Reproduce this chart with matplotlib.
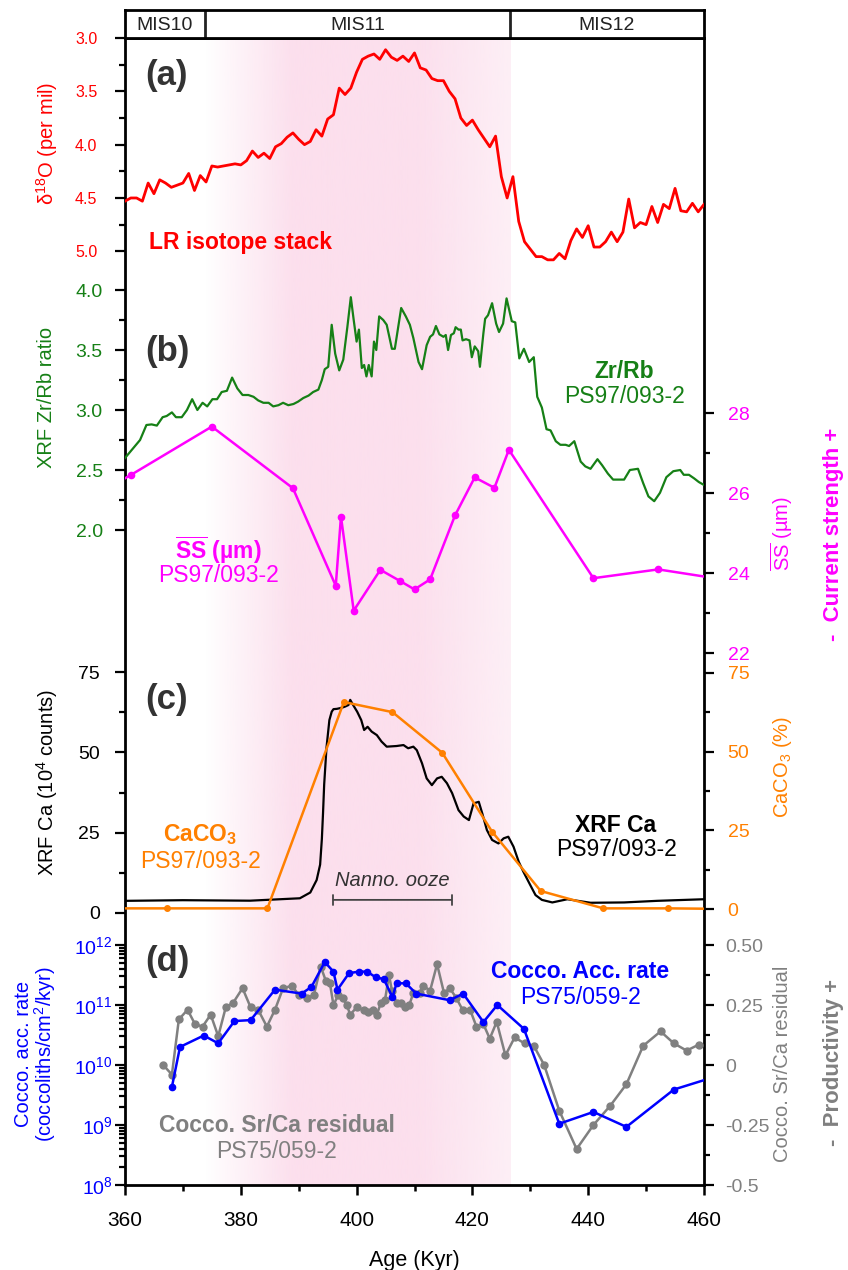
import numpy as np
import matplotlib
matplotlib.use('Agg')
import matplotlib.pyplot as plt
from matplotlib.ticker import FixedLocator, FixedFormatter, NullFormatter, MultipleLocator

plt.rcParams['font.family'] = ['Liberation Sans', 'DejaVu Sans']
plt.rcParams['mathtext.fontset'] = 'custom'
plt.rcParams['mathtext.rm'] = 'Liberation Sans'
plt.rcParams['mathtext.it'] = 'Liberation Sans:italic'
plt.rcParams['mathtext.bf'] = 'Liberation Sans:bold'

# --- data -------------------------------------------------------------
# (a) LR04 benthic d18O stack
lr_age = [360, 361, 362, 363, 364, 365, 366, 367, 368, 369, 370, 371, 372, 373, 374,
          375, 376, 377, 378, 379, 380, 381, 382, 383, 384, 385, 386, 387, 388, 389,
          390, 391, 392, 393, 394, 395, 396, 397, 398, 399, 400, 401, 402, 403, 404,
          405, 406, 407, 408, 409, 410, 411, 412, 413, 414, 415, 416, 417, 418, 419,
          420, 421, 422, 423, 424, 425, 426, 427, 428, 429, 430, 431, 432, 433, 434,
          435, 436, 437, 438, 439, 440, 441, 442, 443, 444, 445, 446, 447, 448, 449,
          450, 451, 452, 453, 454, 455, 456, 457, 458, 459, 460]
lr_d18o = [4.53, 4.50, 4.50, 4.53, 4.36, 4.46, 4.33, 4.36, 4.40, 4.38, 4.36, 4.27, 4.43, 4.29, 4.35,
           4.20, 4.21, 4.20, 4.19, 4.18, 4.19, 4.15, 4.06, 4.12, 4.08, 4.13, 4.02, 3.99, 3.93, 3.89,
           3.95, 4.00, 3.97, 3.86, 3.92, 3.76, 3.72, 3.47, 3.53, 3.47, 3.32, 3.20, 3.17, 3.15, 3.20,
           3.11, 3.18, 3.21, 3.17, 3.22, 3.14, 3.28, 3.30, 3.38, 3.40, 3.40, 3.50, 3.57, 3.75, 3.82,
           3.77, 3.86, 3.94, 4.02, 3.92, 4.30, 4.50, 4.30, 4.72, 4.91, 4.98, 5.05, 5.05, 5.08, 5.08,
           5.02, 5.07, 4.90, 4.79, 4.87, 4.76, 4.96, 4.96, 4.91, 4.82, 4.91, 4.82, 4.51, 4.78, 4.73,
           4.75, 4.58, 4.73, 4.56, 4.60, 4.41, 4.62, 4.63, 4.55, 4.63, 4.56]

# (b) XRF Zr/Rb, PS97/093-2
zr_age = [360.0, 361.4, 362.6, 363.7, 364.6, 365.5, 366.5, 367.2, 368.1, 368.8, 369.8, 370.7,
          371.6, 372.5, 373.4, 374.2, 375.1, 375.9, 376.7, 377.6, 378.5, 379.4, 380.3, 381.3,
          382.2, 383.0, 383.9, 384.8, 385.6, 386.5, 387.3, 388.2, 389.1, 389.9, 390.8, 391.7,
          392.5, 393.4, 394.0, 394.5, 395.1, 395.7, 396.3, 397.0, 397.7, 398.4, 399.0, 399.5,
          400.0, 400.4, 400.9, 401.3, 401.7, 402.1, 402.6, 403.0, 403.4, 403.9, 404.6, 405.2,
          406.1, 406.6, 407.7, 408.5, 409.2, 409.8, 410.7, 411.3, 412.1, 412.7, 413.2, 413.7,
          414.3, 415.0, 415.4, 415.8, 416.3, 416.8, 417.1, 417.6, 418.0, 418.3, 418.9, 419.5,
          419.9, 420.4, 421.0, 421.3, 421.9, 422.2, 422.7, 423.4, 424.1, 424.6, 425.3, 425.9,
          426.8, 427.4, 428.1, 428.9, 429.8, 430.6, 431.2, 432.0, 432.8, 433.5, 434.4, 435.2,
          436.1, 436.7, 437.6, 438.7, 439.5, 440.4, 441.6, 442.4, 443.4, 444.3, 445.2, 446.2,
          447.2, 448.6, 449.5, 450.4, 451.4, 452.4, 453.5, 454.7, 455.9, 456.5, 457.4, 458.3,
          459.1, 460.0]
zr_rb = [2.60, 2.68, 2.75, 2.875, 2.88, 2.87, 2.94, 2.95, 2.98, 2.94, 2.94, 3.00,
         3.09, 3.00, 3.06, 3.03, 3.09, 3.09, 3.15, 3.16, 3.27, 3.18, 3.125, 3.125,
         3.11, 3.08, 3.06, 3.06, 3.03, 3.04, 3.06, 3.04, 3.05, 3.07, 3.10, 3.12,
         3.15, 3.17, 3.25, 3.34, 3.36, 3.71, 3.47, 3.33, 3.42, 3.69, 3.94, 3.75,
         3.57, 3.67, 3.35, 3.375, 3.28, 3.375, 3.28, 3.57, 3.50, 3.78, 3.75, 3.71,
         3.51, 3.51, 3.85, 3.78, 3.71, 3.60, 3.40, 3.34, 3.54, 3.61, 3.63, 3.70,
         3.63, 3.61, 3.625, 3.50, 3.625, 3.64, 3.69, 3.67, 3.67, 3.58, 3.59, 3.58,
         3.44, 3.53, 3.49, 3.36, 3.64, 3.76, 3.79, 3.89, 3.72, 3.65, 3.72, 3.93,
         3.74, 3.73, 3.43, 3.51, 3.40, 3.44, 3.11, 3.02, 2.84, 2.83, 2.74, 2.71,
         2.71, 2.70, 2.74, 2.57, 2.53, 2.51, 2.59, 2.54, 2.47, 2.42, 2.42, 2.42,
         2.50, 2.51, 2.39, 2.28, 2.24, 2.31, 2.44, 2.49, 2.50, 2.46, 2.46, 2.43,
         2.40, 2.375]

# (b) mean sortable silt, PS97/093-2
ss_age = [358.0, 361.0, 375.0, 389.0, 396.4, 397.3, 399.5, 404.1, 407.5, 410.0,
          412.7, 417.0, 420.4, 423.8, 426.3, 440.9, 452.1, 465.0]
ss_um = [26.2, 26.45, 27.66, 26.12, 23.68, 25.41, 23.06, 24.08, 23.8, 23.59,
         23.84, 25.44, 26.39, 26.13, 27.08, 23.87, 24.09, 23.8]

# (c) XRF Ca, PS97/093-2
ca_age = [360.0, 370.0, 381.6, 390.2, 392.0, 393.1, 393.7, 394.0, 394.2, 394.4, 394.8,
          395.3, 395.7, 396.0, 396.6, 397.1, 397.7, 398.0, 398.6, 398.9, 399.4, 400.1,
          400.8, 401.3, 401.9, 402.6, 403.5, 404.3, 405.2, 406.9, 408.1, 408.9, 409.8,
          410.4, 411.3, 412.1, 413.0, 413.9, 414.7, 415.6, 416.5, 417.6, 418.5, 419.4,
          420.2, 421.1, 421.7, 422.5, 423.4, 424.5, 425.4, 426.2, 427.1, 428.0, 428.8,
          430.0, 430.9, 432.0, 433.8, 436.4, 440.4, 446.2, 451.9, 460.0]
ca_counts = [3.7, 3.9, 3.75, 4.5, 6.3, 10.2, 15.0, 23.0, 31.0, 40.0, 51.5,
             60.1, 62.7, 63.5, 63.6, 63.8, 64.1, 64.3, 64.8, 66.4, 64.8, 62.7,
             60.1, 57.0, 58.0, 56.5, 55.4, 53.4, 51.8, 52.0, 52.3, 51.3, 51.8,
             50.7, 46.6, 41.9, 39.8, 41.9, 42.4, 40.4, 37.3, 32.0, 30.0, 28.9,
             34.1, 34.6, 31.0, 25.8, 22.7, 21.6, 23.2, 23.7, 20.6, 15.9, 12.8,
             8.6, 5.5, 4.0, 3.2, 4.2, 3.1, 3.2, 3.7, 4.2]

# (c) CaCO3, PS97/093-2
caco3_age = [355.0, 367.2, 384.6, 397.8, 406.2, 414.8, 423.4, 431.8, 442.6, 453.8, 465.0]
caco3_pct = [0.3, 0.3, 0.3, 65.7, 62.5, 49.6, 24.6, 5.8, 0.3, 0.3, 0.1]

# (d) coccolith accumulation rate, PS75/059-2
acc_age = [368.1, 369.5, 373.6, 376.1, 378.9, 381.7, 385.9, 390.5, 392.2, 394.5,
           396.0, 396.7, 398.7, 400.4, 401.8, 403.3, 404.7, 406.2, 406.9, 408.5,
           410.3, 416.1, 418.4, 421.9, 424.3, 428.9, 435.0, 440.9, 446.6, 454.8, 465.0]
acc_rate = [4.3e9, 2.0e10, 3.1e10, 2.3e10, 5.4e10, 5.6e10, 1.8e11, 1.55e11, 2.0e11, 5.2e11,
            3.6e11, 1.8e11, 3.4e11, 3.6e11, 3.6e11, 2.9e11, 2.7e11, 1.35e11, 2.3e11, 2.3e11,
            1.55e11, 1.2e11, 1.55e11, 5.2e10, 1.0e11, 4.0e10, 1.05e9, 1.65e9, 9.3e8, 3.9e9, 7.9e9]

# (d) coccolith Sr/Ca residual, PS75/059-2
srca_age = [366.6, 368.1, 369.3, 370.8, 372.1, 373.4, 374.8, 376.1, 377.4, 378.7, 380.3,
            381.7, 383.0, 384.5, 385.9, 387.3, 388.8, 390.1, 391.4, 392.6, 393.8, 394.7,
            395.4, 396.0, 396.8, 397.6, 398.3, 398.9, 400.0, 401.2, 402.0, 402.8, 403.5,
            404.2, 404.9, 405.6, 406.1, 406.9, 407.6, 408.4, 409.1, 409.8, 410.9, 411.5,
            412.7, 413.9, 415.1, 416.1, 417.2, 418.3, 419.6, 420.7, 421.9, 423.0, 424.2,
            425.7, 427.3, 429.0, 430.6, 432.4, 435.0, 438.0, 440.9, 443.8, 446.6, 449.5,
            452.5, 454.8, 457.0, 459.1]
srca_res = [0.00, -0.04, 0.19, 0.23, 0.17, 0.16, 0.21, 0.12, 0.24, 0.26, 0.32,
            0.24, 0.23, 0.16, 0.23, 0.32, 0.33, 0.29, 0.28, 0.29, 0.41, 0.35,
            0.34, 0.25, 0.29, 0.28, 0.25, 0.21, 0.24, 0.23, 0.22, 0.23, 0.21,
            0.26, 0.27, 0.375, 0.31, 0.26, 0.26, 0.24, 0.25, 0.30, 0.30, 0.33,
            0.31, 0.42, 0.30, 0.32, 0.28, 0.23, 0.23, 0.16, 0.17, 0.11, 0.18,
            0.04, 0.115, 0.09, 0.08, 0.0, -0.19, -0.35, -0.25, -0.17, -0.08, 0.08,
            0.14, 0.09, 0.06, 0.085]

mis_names = ['MIS10', 'MIS11', 'MIS12']
mis_bounds = [360, 373.8, 426.5, 460]

# --- layout (pixel positions on an 848 x 1270 canvas) ------------------
W, H = 848, 1270
X0, X1 = 125, 704
Y_MIS, Y_TOP, Y_BOT = 10, 38, 1185

RED, GREEN, MAGENTA = '#ff0000', '#168016', '#ff00ff'
ORANGE, BLUE, GREY = '#ff8000', '#0000ff', '#808080'
DARK = '#333333'


def fx(px):
    return px / W


def fy(py):
    return 1 - py / H


fig = plt.figure(figsize=(W / 100, H / 100), dpi=100)
box = [fx(X0), fy(Y_BOT), fx(X1) - fx(X0), fy(Y_TOP) - fy(Y_BOT)]

# frame with the age axis
ax = fig.add_axes(box)
ax.set_xlim(360, 460)
ax.set_ylim(0, 1)
ax.set_yticks([])
ax.xaxis.set_major_locator(MultipleLocator(20))
ax.xaxis.set_minor_locator(MultipleLocator(10))
ax.tick_params(axis='x', which='major', direction='out', length=7, width=1.8,
               labelsize=15, pad=12)
ax.tick_params(axis='x', which='minor', direction='out', length=4, width=1.8)
for s in ax.spines.values():
    s.set_linewidth(2.0)
ax.set_xlabel('Age (Kyr)', fontsize=15.5, labelpad=14)

# MIS11 interglacial shading, faded at the edges
shade_x = np.linspace(mis_bounds[1], mis_bounds[2], 400)
alpha = np.interp(shade_x, [373.8, 389.0, 410.0, 426.5], [0.0, 1.0, 1.0, 0.5])
pink = np.zeros((1, shade_x.size, 4))
pink[..., 0] = 252 / 255
pink[..., 1] = 223 / 255
pink[..., 2] = 237 / 255
pink[..., 3] = alpha
ax.imshow(pink, extent=[mis_bounds[1], mis_bounds[2], 0, 1], aspect='auto', zorder=0)

# MIS stage bar
mis = fig.add_axes([fx(X0), fy(Y_TOP), fx(X1) - fx(X0), fy(Y_MIS) - fy(Y_TOP)])
mis.set_xlim(360, 460)
mis.set_ylim(0, 1)
mis.set_xticks([])
mis.set_yticks([])
for s in mis.spines.values():
    s.set_linewidth(2.0)
for b in mis_bounds[1:-1]:
    mis.axvline(b, color='#222222', lw=2.0)
for name, a, b in zip(mis_names, mis_bounds[:-1], mis_bounds[1:]):
    mis.text((a + b) / 2, 0.45, name, ha='center', va='center', fontsize=14, color='#222222')


def overlay(p_a, v_a, p_b, v_b, log=False):
    """Transparent axes over the frame; value v_a sits at pixel row p_a, v_b at p_b."""
    o = fig.add_axes(box)
    if log:
        v_a, v_b = np.log10(v_a), np.log10(v_b)
    k = (v_b - v_a) / (p_b - p_a)
    lo = v_a + k * (Y_BOT - p_a)
    hi = v_a + k * (Y_TOP - p_a)
    if log:
        o.set_yscale('log')
        lo, hi = 10 ** lo, 10 ** hi
    o.set_ylim(lo, hi)
    o.set_xlim(360, 460)
    o.patch.set_visible(False)
    for s in o.spines.values():
        s.set_visible(False)
    o.tick_params(axis='x', which='both', bottom=False, labelbottom=False)
    return o


def yticks(o, side, major, minor, labels, color, size, pad):
    o.yaxis.set_major_locator(FixedLocator(major))
    o.yaxis.set_minor_locator(FixedLocator(minor))
    o.yaxis.set_major_formatter(FixedFormatter(labels))
    o.yaxis.set_minor_formatter(NullFormatter())
    if side == 'right':
        o.yaxis.tick_right()
    else:
        o.yaxis.tick_left()
    o.tick_params(axis='y', which='major', direction='out', length=7, width=1.6,
                  color='black', labelcolor=color, labelsize=size, pad=pad)
    o.tick_params(axis='y', which='minor', direction='out', length=4, width=1.6, color='black')


def label(px, py, s, **kw):
    fig.text(fx(px), fy(py), s, ha='center', va='center', **kw)


# (a) d18O
a_ax = overlay(38, 3.0, 251.3, 5.0)
yticks(a_ax, 'left', [3.0, 3.5, 4.0, 4.5, 5.0], [3.25, 3.75, 4.25, 4.75],
       ['3.0', '3.5', '4.0', '4.5', '5.0'], RED, 11.5, 13)
a_ax.plot(lr_age, lr_d18o, color=RED, lw=2.0)

# (b) Zr/Rb and sortable silt
b_ax = overlay(290, 4.0, 530, 2.0)
yticks(b_ax, 'left', [2.0, 2.5, 3.0, 3.5, 4.0], [2.25, 2.75, 3.25, 3.75],
       ['2.0', '2.5', '3.0', '3.5', '4.0'], GREEN, 14, 9)
b_ax.plot(zr_age, zr_rb, color=GREEN, lw=1.6)

ss_ax = overlay(413, 28, 653, 22)
yticks(ss_ax, 'right', [22, 24, 26, 28], [23, 25, 27],
       ['22', '24', '26', '28'], MAGENTA, 14, 10)
ss_ax.plot(ss_age, ss_um, color=MAGENTA, lw=1.8, marker='o', ms=4.5)

# (c) XRF Ca and CaCO3
c_ax = overlay(672.3, 75, 912.7, 0)
yticks(c_ax, 'left', [0, 25, 50, 75], [12.5, 37.5, 62.5],
       ['0', '25', '50', '75'], 'black', 14, 11)
c_ax.plot(ca_age, ca_counts, color='black', lw=1.6)

co_ax = overlay(672.7, 75, 909.3, 0)
yticks(co_ax, 'right', [0, 25, 50, 75], [12.5, 37.5, 62.5],
       ['0', '25', '50', '75'], ORANGE, 14, 10)
co_ax.plot(caco3_age, caco3_pct, color=ORANGE, lw=1.8, marker='o', ms=4)

# nannofossil ooze interval
c_ax.annotate('', xy=(396.0, 4.0), xytext=(416.4, 4.0),
              arrowprops=dict(arrowstyle='|-|, widthA=0.35, widthB=0.35',
                              color='#444444', lw=1.3, shrinkA=0, shrinkB=0))
label(392, 880, 'Nanno. ooze', fontsize=14.5, style='italic', color=DARK)

# (d) coccolith accumulation rate and Sr/Ca residual
d_ax = overlay(945, 1e12, 1185, 1e8, log=True)
yticks(d_ax, 'left', [1e8, 1e9, 1e10, 1e11, 1e12],
       [m * 10.0 ** e for e in range(8, 12) for m in range(2, 10)],
       [r'$10^{8}$', r'$10^{9}$', r'$10^{10}$', r'$10^{11}$', r'$10^{12}$'], BLUE, 14, 2)

g_ax = overlay(945, 0.5, 1185, -0.5)
yticks(g_ax, 'right', [-0.5, -0.25, 0, 0.25, 0.5], [-0.375, -0.125, 0.125, 0.375],
       ['-0.5', '-0.25', '0', '0.25', '0.50'], GREY, 14, 8)
g_ax.plot(srca_age, srca_res, color=GREY, lw=1.8, marker='o', ms=5)
d_ax.set_zorder(g_ax.get_zorder() + 1)
d_ax.plot(acc_age, acc_rate, color=BLUE, lw=1.8, marker='o', ms=4.5)

# panel letters
for letter, py in zip(['(a)', '(b)', '(c)', '(d)'], [75, 352, 700, 962]):
    fig.text(fx(145), fy(py), letter, ha='left', va='center', fontsize=25,
             fontweight='bold', color=DARK)

# series labels
fig.text(fx(149), fy(242), 'LR isotope stack', ha='left', va='center',
         fontsize=16.5, fontweight='bold', color=RED)
label(624, 371, 'Zr/Rb', fontsize=16.5, fontweight='bold', color=GREEN)
label(625, 397, 'PS97/093-2', fontsize=16.5, color=GREEN)
label(218, 550, r'$\mathbf{\overline{SS}}$ (µm)', fontsize=16.5, fontweight='bold', color=MAGENTA)
label(218, 575, 'PS97/093-2', fontsize=16.5, color=MAGENTA)
label(200, 835, r'CaCO$_\mathbf{3}$', fontsize=16.5, fontweight='bold', color=ORANGE)
label(200, 862, 'PS97/093-2', fontsize=16.5, color=ORANGE)
label(616, 826, 'XRF Ca', fontsize=16.5, fontweight='bold', color='black')
label(616, 850, 'PS97/093-2', fontsize=16.5, color='black')
label(580, 972, 'Cocco. Acc. rate', fontsize=16.5, fontweight='bold', color=BLUE)
label(580, 997, 'PS75/059-2', fontsize=16.5, color=BLUE)
label(277, 1125, 'Cocco. Sr/Ca residual', fontsize=16.5, fontweight='bold', color=GREY)
label(277, 1152, 'PS75/059-2', fontsize=16.5, color=GREY)

# axis titles
label(47, 143, r'δ$^{18}$O (per mil)', fontsize=14.5, color=RED, rotation=90)
label(47, 397, 'XRF Zr/Rb ratio', fontsize=14.5, color=GREEN, rotation=90)
label(47, 782, r'XRF Ca (10$^{4}$ counts)', fontsize=14.5, color='black', rotation=90)
label(36, 1054, 'Cocco. acc. rate\n(coccoliths/cm$^{2}$/kyr)', fontsize=14.5, color=BLUE,
      rotation=90, multialignment='center', linespacing=1.0)
label(782, 534, r'$\overline{\mathrm{SS}}$ (µm)', fontsize=14.5, color=MAGENTA, rotation=90)
label(834, 534, '-  Current strength +', fontsize=16, fontweight='bold', color=MAGENTA, rotation=90)
label(782, 767, r'CaCO$_{3}$ (%)', fontsize=14.5, color=ORANGE, rotation=90)
label(782, 1064, 'Cocco. Sr/Ca residual', fontsize=14.5, color=GREY, rotation=90)
label(834, 1063, '-  Productivity +', fontsize=16, fontweight='bold', color=GREY, rotation=90)

fig.savefig('out.png', dpi=100)
